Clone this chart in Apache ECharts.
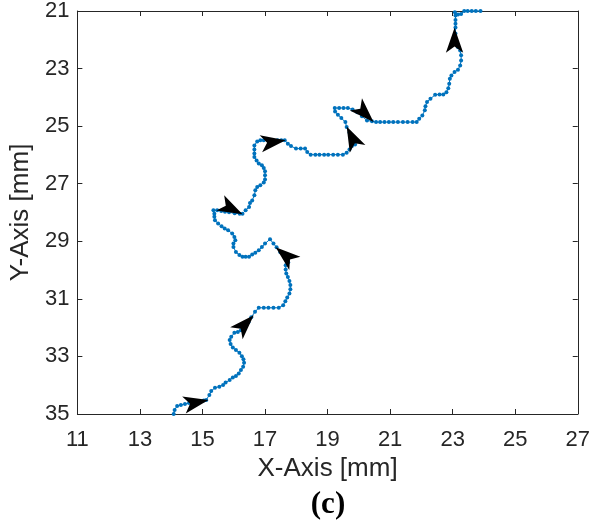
<!DOCTYPE html>
<html><head><meta charset="utf-8">
<script src="https://cdn.jsdelivr.net/npm/echarts@6/dist/echarts.min.js"></script>
<style>html,body{margin:0;padding:0;background:#fff;}#c{width:593px;height:524px;}</style>
</head><body><div id="c"></div>
<script>
const pathX = [14.08,14.11,14.19,14.31,14.44,14.57,14.73,14.88,15.04,15.12,15.22,15.28,15.40,15.54,15.66,15.74,15.87,15.97,16.07,16.16,
16.23,16.30,16.33,16.31,16.26,16.18,16.07,15.97,15.90,15.87,15.92,16.02,16.13,16.23,16.34,16.47,16.56,16.68,16.80,16.96,
17.11,17.27,17.44,17.58,17.65,17.71,17.78,17.81,17.81,17.78,17.73,17.68,17.66,17.66,17.74,17.62,17.49,17.37,17.27,17.16,
17.00,16.90,16.80,16.69,16.59,16.49,16.38,16.28,16.18,16.07,15.99,15.99,16.05,16.02,15.95,15.82,15.71,15.61,15.50,15.40,
15.38,15.38,15.35,15.47,15.60,15.72,15.85,16.03,16.19,16.28,16.38,16.49,16.52,16.59,16.66,16.69,16.75,16.85,16.96,17.00,
17.00,17.00,16.96,16.90,16.80,16.73,16.66,16.66,16.66,16.66,16.75,16.85,16.96,17.09,17.24,17.40,17.52,17.63,17.73,17.83,
17.99,18.14,18.28,18.35,18.46,18.61,18.74,18.89,19.02,19.18,19.33,19.49,19.61,19.70,19.78,19.88,19.79,19.70,19.61,19.57,
19.44,19.33,19.24,19.23,19.37,19.51,19.65,19.80,19.95,20.10,20.26,20.42,20.55,20.68,20.82,20.96,21.10,21.25,21.41,21.56,
21.72,21.85,21.93,22.03,22.11,22.13,22.18,22.29,22.44,22.58,22.70,22.80,22.86,22.89,22.91,22.96,23.06,23.17,23.24,23.27,
23.27,23.24,23.17,23.10,23.09,23.09,23.09,23.09,23.09,23.07,23.17,23.27,23.37,23.48,23.61,23.74,23.89];
const pathY = [35.00,34.86,34.72,34.69,34.65,34.62,34.58,34.55,34.53,34.51,34.34,34.20,34.09,34.05,33.99,33.91,33.82,33.73,33.68,33.59,
33.47,33.36,33.22,33.10,32.99,32.87,32.78,32.69,32.57,32.43,32.32,32.18,32.15,32.09,31.95,31.81,31.64,31.45,31.31,31.31,
31.31,31.31,31.31,31.22,31.08,30.95,30.81,30.67,30.52,30.38,30.24,30.12,29.98,29.83,29.73,29.55,29.38,29.21,29.08,28.93,
29.08,29.20,29.31,29.40,29.46,29.54,29.54,29.54,29.48,29.37,29.20,29.08,28.96,28.85,28.73,28.62,28.56,28.48,28.38,28.27,
28.15,28.04,27.92,27.92,27.95,27.97,27.99,28.03,28.04,28.04,27.92,27.81,27.67,27.58,27.40,27.23,27.11,27.05,26.96,26.85,
26.71,26.57,26.45,26.36,26.30,26.19,26.07,25.95,25.81,25.67,25.53,25.49,25.49,25.49,25.49,25.49,25.49,25.49,25.61,25.69,
25.78,25.78,25.78,25.90,25.99,25.99,25.99,25.99,25.99,25.99,25.99,25.99,25.92,25.81,25.69,25.64,25.42,25.22,25.03,24.86,
24.72,24.60,24.49,24.37,24.37,24.37,24.37,24.42,24.52,24.66,24.80,24.83,24.86,24.86,24.86,24.86,24.86,24.86,24.86,24.86,
24.86,24.86,24.74,24.63,24.45,24.31,24.16,24.05,23.91,23.90,23.90,23.82,23.68,23.53,23.35,23.24,23.12,23.04,22.89,22.72,
22.54,22.37,22.26,22.02,21.78,21.57,21.44,21.31,21.16,21.04,21.12,21.10,21.00,21.00,21.00,21.00,21.00];
// arrow tip positions (data units) and pointing direction (degrees, counter-clockwise from +x on screen)
const arrowX = [15.19,16.64,17.34,16.28,17.66,19.61,20.47,23.06];
const arrowY = [34.51,31.57,29.21,28.06,25.49,25.01,24.86,21.58];
const arrowDir = [12,46,140,-27,8,116,-45,90];
const xTitle = 'X-Axis [mm]';
const yTitle = 'Y-Axis [mm]';
const caption = '(c)';

const axisCol = '#262626';
const font = '"Liberation Sans", Arial, sans-serif';
const chart = echarts.init(document.getElementById('c'), null, {renderer:'canvas'});
const baseAxis = {
  type:'value', splitLine:{show:false},
  axisLine:{show:true, onZero:false, lineStyle:{color:axisCol, width:1}},
  axisTick:{show:true, inside:true, length:5, lineStyle:{color:axisCol}},
};
chart.setOption({
  animation:false,
  backgroundColor:'#fff',
  grid:{left:70, right:8, top:10.5, bottom:110, containLabel:false},
  xAxis:[
    Object.assign({}, baseAxis, {min:11, max:27, interval:2, position:'bottom',
      axisLabel:{fontSize:22, color:axisCol, margin:15, fontFamily:font},
      name:xTitle, nameLocation:'middle', nameGap:40,
      nameTextStyle:{fontSize:26, color:axisCol, fontFamily:font}}),
    Object.assign({}, baseAxis, {min:11, max:27, interval:2, position:'top', axisLabel:{show:false}})
  ],
  yAxis:[
    Object.assign({}, baseAxis, {min:21, max:35, interval:2, inverse:true, position:'left',
      axisLabel:{fontSize:22, color:axisCol, margin:8, fontFamily:font},
      name:yTitle, nameLocation:'middle', nameGap:36,
      nameTextStyle:{fontSize:26, color:axisCol, fontFamily:font}}),
    Object.assign({}, baseAxis, {min:21, max:35, interval:2, inverse:true, position:'right', axisLabel:{show:false}})
  ],
  series:[
    {type:'line', xAxisIndex:0, yAxisIndex:0,
     data: pathX.map((x,i)=>[x, pathY[i]]),
     showSymbol:true, showAllSymbol:true, symbol:'circle', symbolSize:4,
     lineStyle:{color:'#0072BD', width:1},
     itemStyle:{color:'#0072BD', borderWidth:0},
     clip:false, z:2},
    {type:'scatter', xAxisIndex:0, yAxisIndex:0,
     data: arrowX.map((x,i)=>({value:[x, arrowY[i]], symbolRotate: arrowDir[i] - 90})),
     symbol:'arrow', symbolSize:[13,25],
     itemStyle:{color:'#000', opacity:1}, clip:false, z:5}
  ],
  graphic:[{type:'text', x:328, y:505,
    style:{text:caption, font:'bold 31px "Liberation Serif", "Times New Roman", serif', fill:'#000', align:'center', verticalAlign:'middle'}}]
});
</script></body></html>
